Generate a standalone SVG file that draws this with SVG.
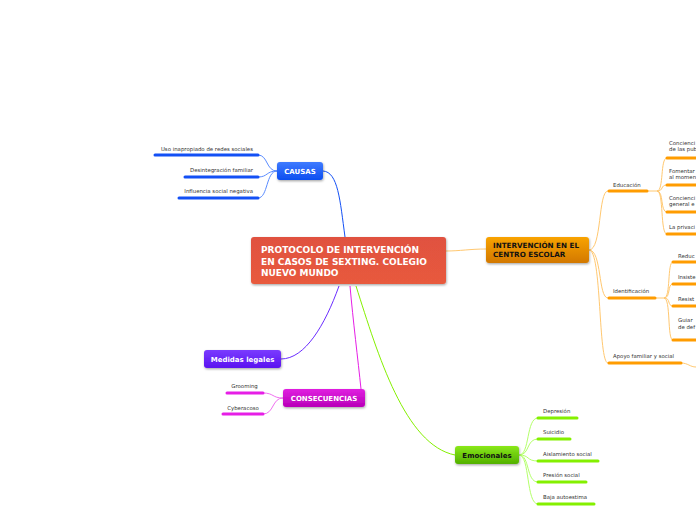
<svg xmlns="http://www.w3.org/2000/svg" width="696" height="520" viewBox="0 0 696 520">
<defs>
<linearGradient id="gRed" x1="0" y1="0" x2="0" y2="1"><stop offset="0" stop-color="#e0513f"/><stop offset="1" stop-color="#e85a3e"/></linearGradient>
<linearGradient id="gBlue" x1="0" y1="0" x2="0" y2="1"><stop offset="0" stop-color="#3f7bff"/><stop offset="1" stop-color="#0d4ef0"/></linearGradient>
<linearGradient id="gOrange" x1="0" y1="0" x2="0" y2="1"><stop offset="0" stop-color="#f9a300"/><stop offset="1" stop-color="#d27800"/></linearGradient>
<linearGradient id="gPurple" x1="0" y1="0" x2="0" y2="1"><stop offset="0" stop-color="#7a3cff"/><stop offset="1" stop-color="#5a12f0"/></linearGradient>
<linearGradient id="gMag" x1="0" y1="0" x2="0" y2="1"><stop offset="0" stop-color="#e020e0"/><stop offset="1" stop-color="#b800b8"/></linearGradient>
<linearGradient id="gGreen" x1="0" y1="0" x2="0" y2="1"><stop offset="0" stop-color="#8ae81a"/><stop offset="1" stop-color="#52b000"/></linearGradient>
<filter id="sh" x="-10%" y="-20%" width="130%" height="160%"><feDropShadow dx="0.6" dy="1.2" stdDeviation="0.9" flood-color="#000" flood-opacity="0.35"/></filter>
</defs>
<style>
.nl{font-family:"DejaVu Sans",Verdana,sans-serif;font-weight:bold;font-size:7px;fill:#fff;text-anchor:middle}
.nd{fill:#111}
.t{font-family:"DejaVu Sans",Verdana,sans-serif;font-size:5.4px;fill:#333}
.th{fill:none;stroke-width:1}
.ul{fill:none;stroke-width:3;stroke-linecap:round}
.blue{stroke:#1350f5}
.bluet{stroke:#5a8cff}
.or{stroke:#ff9c00}
.ort{stroke:#ffc870}
.mag{stroke:#e61ee6}
.magt{stroke:#f070f0}
.gr{stroke:#84f000}
.grt{stroke:#b4ff6a}
</style>
<rect width="696" height="520" fill="#fff"/>
<g id="connectors">
<path class="th blue" d="M323,171 C338,172 340,200 345,237" stroke-width="1.3"/>
<path class="th ort" d="M446,251 C460,251 470,249 486,249" stroke="#f7a83c" stroke-width="1.2"/>
<path class="th" d="M339,286 C325,325 305,359 281,359" stroke="#6a2cff" stroke-width="1.3"/>
<path class="th mag" d="M350,286 C353,320 358,360 361,389" stroke-width="1.3"/>
<path class="th gr" d="M356,286 C378,355 405,445 455,455" stroke-width="1.4"/>
<path class="th bluet" d="M277,171 C266,171 268,155 258,155 M277,171 C266,171 268,177 258,177 M277,171 C266,171 268,198 258,198"/>
<path class="th magt" d="M283,398 C272,398 274,393 263,393 M283,398 C272,398 274,414 263,414"/>
<path class="th grt" d="M519,455 C530,455 526,418 538,418 M519,455 C530,455 526,439 538,439 M519,455 C530,455 526,461 538,461 M519,455 C530,455 526,482 538,482 M519,455 C530,455 526,504 538,504"/>
<path class="th ort" d="M589,250 C602,250 598,191 608,191 M589,250 C602,250 598,298 608,298 M589,250 C602,250 598,363 608,363"/>
<path class="th ort" d="M647,191 L657,191 C664,191 660,158 667,158 M657,191 C664,191 660,185 667,185 M657,191 C664,191 660,212 667,212 M657,191 C664,191 660,234 667,234"/>
<path class="th ort" d="M655,298 L664,298 C671,298 667,262 673,262 M664,298 C671,298 667,284 673,284 M664,298 C671,298 667,306 673,306 M664,298 C671,298 667,340 673,340"/>
<path class="th ort" d="M681,363 C688,363 690,367 696,367"/>
</g>
<g id="center">
<rect x="251" y="237" width="195" height="47" rx="3" fill="url(#gRed)" filter="url(#sh)"/>
<text class="nl" style="font-size:9px;text-anchor:start" x="261" y="253">PROTOCOLO DE INTERVENCIÓN</text>
<text class="nl" style="font-size:9px;text-anchor:start" x="261" y="265">EN CASOS DE SEXTING. COLEGIO</text>
<text class="nl" style="font-size:9px;text-anchor:start" x="261" y="276">NUEVO MUNDO</text>
</g>
<g id="causas">
<rect x="277" y="162" width="46" height="18" rx="3" fill="url(#gBlue)" filter="url(#sh)"/>
<text class="nl" x="300" y="174">CAUSAS</text>
</g>
<g id="causa1"><text class="t" x="253" y="151" text-anchor="end">Uso inapropiado de redes sociales</text><path class="ul blue" d="M155,155 L258,155"/></g>
<g id="causa2"><text class="t" x="253" y="172" text-anchor="end">Desintegración familiar</text><path class="ul blue" d="M185,177 L258,177"/></g>
<g id="causa3"><text class="t" x="253" y="193" text-anchor="end">Influencia social negativa</text><path class="ul blue" d="M179,198 L258,198"/></g>
<g id="intervencion">
<rect x="486" y="237" width="103" height="26" rx="3" fill="url(#gOrange)" filter="url(#sh)"/>
<text class="nl nd" style="font-size:7.2px;text-anchor:start" x="493" y="248">INTERVENCIÓN EN EL</text>
<text class="nl nd" style="font-size:7.2px;text-anchor:start" x="493" y="257">CENTRO ESCOLAR</text>
</g>
<g id="educacion"><text class="t" x="613" y="187">Educación</text><path class="ul or" d="M609,191 L647,191"/></g>
<g id="edu1"><text class="t" x="669" y="145">Concienci</text><text class="t" x="669" y="151">de las pub</text><path class="ul or" d="M667,158 L698,158"/></g>
<g id="edu2"><text class="t" x="669" y="173">Fomentar</text><text class="t" x="669" y="179">al momen</text><path class="ul or" d="M667,185 L698,185"/></g>
<g id="edu3"><text class="t" x="669" y="200">Concienci</text><text class="t" x="669" y="206">general e</text><path class="ul or" d="M667,212 L698,212"/></g>
<g id="edu4"><text class="t" x="669" y="229">La privaci</text><path class="ul or" d="M667,234 L698,234"/></g>
<g id="identificacion"><text class="t" x="613" y="293">Identificación</text><path class="ul or" d="M609,298 L655,298"/></g>
<g id="id1"><text class="t" x="678" y="258">Reduc</text><path class="ul or" d="M673,262 L698,262"/></g>
<g id="id2"><text class="t" x="678" y="279">Insiste</text><path class="ul or" d="M673,284 L698,284"/></g>
<g id="id3"><text class="t" x="678" y="301">Resist</text><path class="ul or" d="M673,306 L698,306"/></g>
<g id="id4"><text class="t" x="678" y="322">Guiar</text><text class="t" x="678" y="329">de def</text><path class="ul or" d="M673,340 L698,340"/></g>
<g id="apoyo"><text class="t" x="613" y="358">Apoyo familiar y social</text><path class="ul or" d="M609,363 L681,363"/></g>
<g id="medidas">
<rect x="204" y="350" width="77" height="18" rx="3" fill="url(#gPurple)" filter="url(#sh)"/>
<text class="nl" x="242.5" y="362">Medidas legales</text>
</g>
<g id="consecuencias">
<rect x="283" y="389" width="82" height="18" rx="3" fill="url(#gMag)" filter="url(#sh)"/>
<text class="nl" x="324" y="401">CONSECUENCIAS</text>
</g>
<g id="grooming"><text class="t" x="244.5" y="388" text-anchor="middle">Grooming</text><path class="ul mag" d="M227,393 L263,393"/></g>
<g id="cyberacoso"><text class="t" x="243" y="410" text-anchor="middle">Cyberacoso</text><path class="ul mag" d="M223,414 L263,414"/></g>
<g id="emocionales">
<rect x="455" y="446" width="64" height="18" rx="3" fill="url(#gGreen)" filter="url(#sh)"/>
<text class="nl nd" x="487" y="458">Emocionales</text>
</g>
<g id="emo1"><text class="t" x="543" y="413">Depresión</text><path class="ul gr" d="M538,418 L577,418"/></g>
<g id="emo2"><text class="t" x="543" y="434">Suicidio</text><path class="ul gr" d="M538,439 L570,439"/></g>
<g id="emo3"><text class="t" x="543" y="456">Aislamiento social</text><path class="ul gr" d="M538,461 L598,461"/></g>
<g id="emo4"><text class="t" x="543" y="477">Presión social</text><path class="ul gr" d="M538,482 L586,482"/></g>
<g id="emo5"><text class="t" x="543" y="499">Baja autoestima</text><path class="ul gr" d="M538,504 L594,504"/></g>
</svg>
